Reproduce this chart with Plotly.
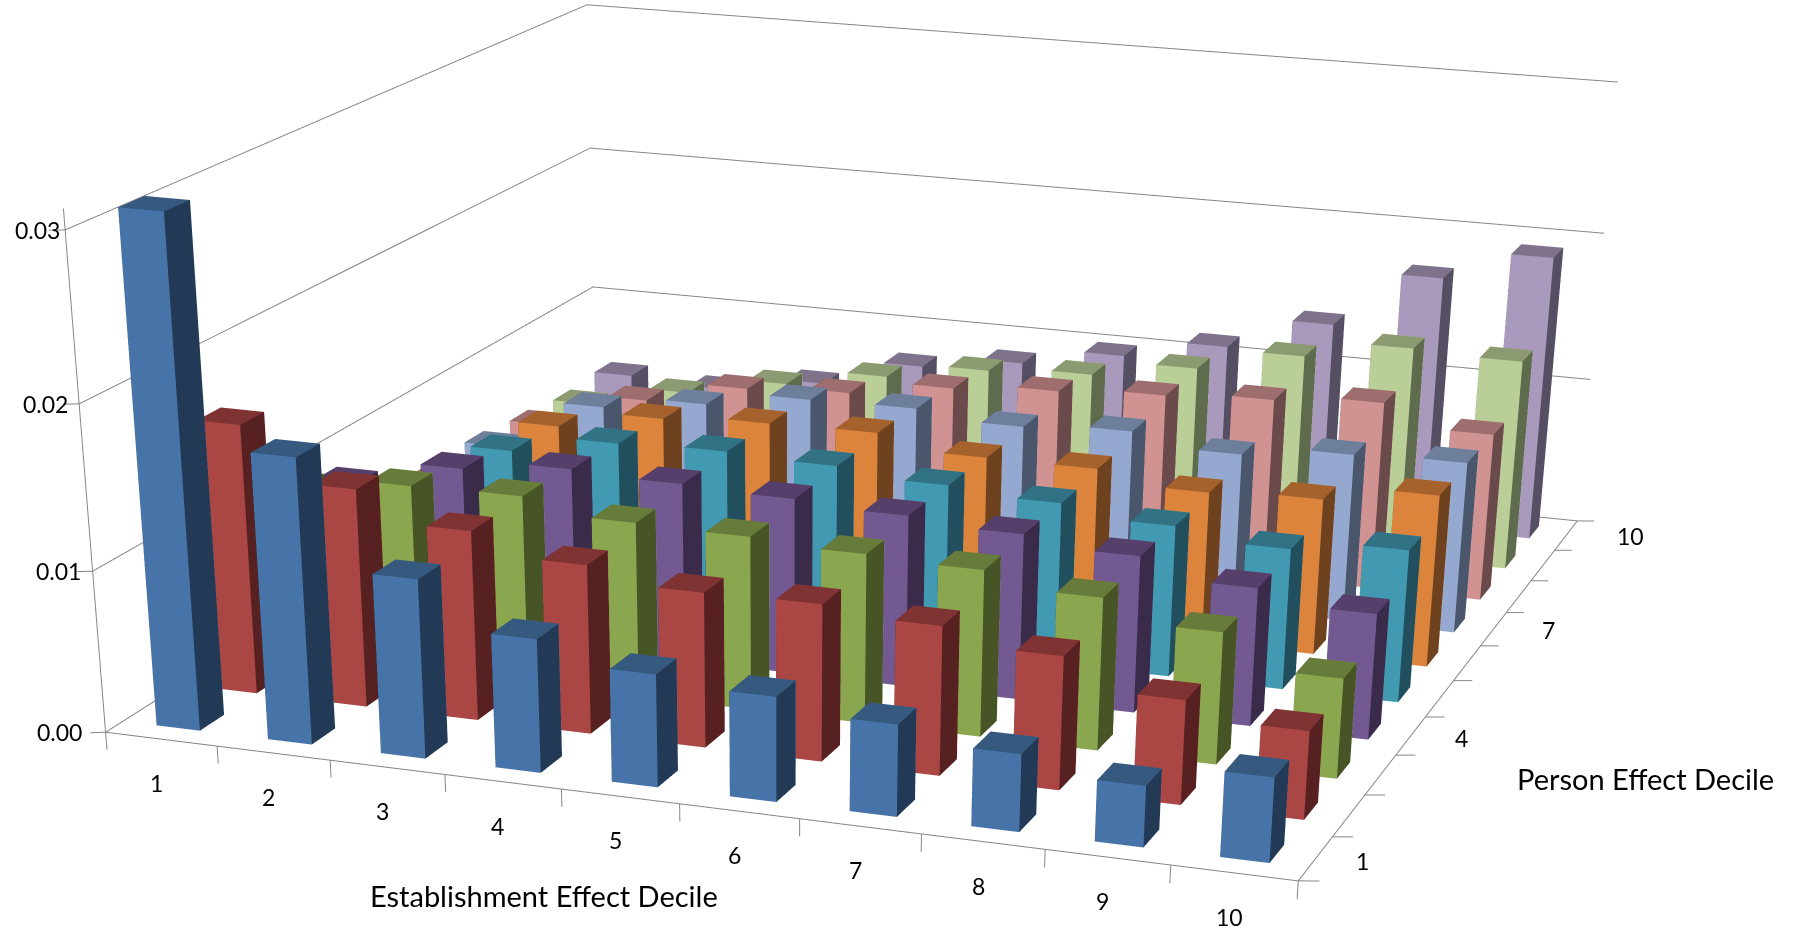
import numpy as np
import plotly.graph_objects as go

establishment = list(range(1, 11))
person = list(range(1, 11))
row1 = [.031,.0175,.011,.0082,.0069,.0064,.0056,.0047,.0037,.0051]
row2 = [.0168,.0136,.0118,.0105,.0096,.0097,.0092,.0082,.0064,.0054]
row3 = [.011,.0118,.0119,.011,.0109,.0106,.0104,.0095,.0082,.0062]
row4 = [.0092,.0109,.0116,.0114,.0112,.0109,.0105,.0099,.0087,.0079]
row5 = [.006,.0101,.0113,.0115,.0113,.0108,.0104,.0097,.009,.0097]
row6 = [.0058,.0098,.011,.0114,.0115,.0106,.0106,.0098,.0101,.0111]
row7 = [.0058,.0092,.0101,.0111,.0112,.0107,.0111,.0103,.011,.0112]
row8 = [.0054,.0078,.0093,.0097,.0107,.0112,.0116,.012,.0125,.0111]
row9 = [.005,.0065,.0078,.009,.0101,.0105,.0116,.0131,.0143,.0141]
row10 = [.0052,.0049,.006,.0079,.0088,.01,.0113,.0135,.0173,.0193]
rows = [row1,row2,row3,row4,row5,row6,row7,row8,row9,row10]
z_ticks = [0, .01, .02, .03]
z_labels = ['0.00', '0.01', '0.02', '0.03']
person_labels = [1, 4, 7, 10]
x_title = 'Establishment Effect Decile'
y_title = 'Person Effect Decile'
front = ['#4674A8','#AA4644','#8AA64E','#725991','#4299B2','#DC843C','#95A9D0','#D19292','#BACE97','#A999BC']
top = ['#35597F','#7F3333','#677B3A','#56406B','#317385','#A5622C','#6E7F9C','#9E6E6E','#8C9A71','#7F738C']
side = ['#233A56','#572121','#475526','#3A2B4B','#214F5D','#6E421E','#49566B','#6A4A4A','#5F6B4D','#564E62']
WX, WY = 0.39, 0.42
LINE = '#868686'

# The visible chart is the top quarter of a taller scene: Plotly's 3-D field of view is fixed,
# and this narrows it to the long-lens look of the reference.
FIGW, FIGH = 1797, 933 * 4

# Floor and wall box of the chart, and the wider scene ranges that leave room for the tick marks.
BOX = np.array([[.5, 10.5], [.5, 10.5], [0, .031]])
RANGE = np.array([[.38, 10.66], [.44, 10.57], [-.0011, .032]])
box_aspect = np.array([2, 2.14002, 0.81183])
eye = np.array([2.49312, -7.50079, 1.90536])
center = np.array([-3.42875, 10.60181, -9.89249])
up = dict(x=-11.49176, y=34.11326, z=1)

span, rspan = BOX[:, 1] - BOX[:, 0], RANGE[:, 1] - RANGE[:, 0]
aspect = box_aspect * rspan / span
shift = (BOX.mean(axis=1) - RANGE.mean(axis=1)) / span * box_aspect
eye, center = eye + shift, center + shift

data = []
for j, vals in enumerate(rows):
    xs, ys, zs, I, J, K, fc = [], [], [], [], [], [], []
    for i, v in enumerate(vals):
        x0, x1 = establishment[i] - WX / 2, establishment[i] + WX / 2
        y0, y1 = person[j] - WY / 2, person[j] + WY / 2
        b = len(xs)
        xs += [x0, x1, x1, x0, x0, x1, x1, x0]
        ys += [y0, y0, y1, y1, y0, y0, y1, y1]
        zs += [0, 0, 0, 0, v, v, v, v]
        quads = [((0, 1, 5), (0, 5, 4), front[j]), ((1, 2, 6), (1, 6, 5), side[j]), ((4, 5, 6), (4, 6, 7), top[j]),
                 ((3, 2, 6), (3, 6, 7), front[j]), ((0, 3, 7), (0, 7, 4), side[j])]
        for t1, t2, c in quads:
            for t in (t1, t2):
                I.append(b + t[0]); J.append(b + t[1]); K.append(b + t[2]); fc.append(c)
    data.append(go.Mesh3d(x=xs, y=ys, z=zs, i=I, j=J, k=K, facecolor=fc, flatshading=True,
                          lighting=dict(ambient=1, diffuse=0, specular=0, roughness=1, fresnel=0),
                          hoverinfo='skip', showscale=False))

# Axis lines, tick marks and wall gridlines
xl, yl, zl = [], [], []
def seg(*points):
    for p in points:
        xl.append(p[0]); yl.append(p[1]); zl.append(p[2])
    xl.append(None); yl.append(None); zl.append(None)
xa, xb, ya, yb = BOX[0, 0], BOX[0, 1], BOX[1, 0], BOX[1, 1]
seg((xa, ya, 0), (xb, ya, 0), (xb, yb, 0))
seg((xa, ya, RANGE[2, 0]), (xa, ya, .0312))
for z in z_ticks:
    seg((xa, ya, z), (xa, yb, z), (xb, yb, z))
    seg((xa, ya, z), (xa - .11, ya - .053, z))
for e in range(11):
    seg((xa + e, ya, 0), (xa + e, ya, RANGE[2, 0]))
    seg((xb, ya + e, 0), (xb + .15, ya + e + .052, 0))
data.append(go.Scatter3d(x=xl, y=yl, z=zl, mode='lines', line=dict(color=LINE, width=2), hoverinfo='skip'))

fig = go.Figure(data)
tf = dict(family='Lato', size=23, color='black')
sa = []
for i in establishment:
    sa.append(dict(x=i, y=.5, z=0, text=str(i), showarrow=False, xshift=-5, yshift=-44, font=tf))
for i, sx, sy in zip(person_labels, [47, 51, 55, 64], [-2, -2, -1, -1]):
    sa.append(dict(x=10.5, y=i, z=0, text=str(i), showarrow=False, xshift=sx, yshift=sy, font=tf))
for v, t, sx in zip(z_ticks, z_labels, [-46, -34, -34, -28]):
    sa.append(dict(x=.5, y=.5, z=v, text=t, showarrow=False, xshift=sx, yshift=0, font=tf))
def py(yp): return 1 - yp / FIGH
tt = dict(family='Lato', size=29, color='black')
hidden = dict(visible=False, showspikes=False)
fig.update_layout(width=FIGW, height=FIGH, margin=dict(l=0, r=0, t=0, b=0, autoexpand=False),
    paper_bgcolor='white', showlegend=False,
    annotations=[
        dict(text=x_title, x=544 / FIGW, y=py(896), xref='paper', yref='paper', xanchor='center', yanchor='middle', showarrow=False, font=tt),
        dict(text=y_title, x=1645 / FIGW, y=py(778), xref='paper', yref='paper', xanchor='center', yanchor='middle', showarrow=False, font=tt)],
    scene=dict(domain=dict(x=[0, 1], y=[0, 1]), aspectmode='manual',
        aspectratio=dict(x=float(aspect[0]), y=float(aspect[1]), z=float(aspect[2])),
        camera=dict(eye=dict(x=float(eye[0]), y=float(eye[1]), z=float(eye[2])),
                    center=dict(x=float(center[0]), y=float(center[1]), z=float(center[2])),
                    up=up, projection=dict(type='perspective')),
        annotations=sa,
        xaxis=dict(hidden, range=RANGE[0].tolist()),
        yaxis=dict(hidden, range=RANGE[1].tolist()),
        zaxis=dict(hidden, range=RANGE[2].tolist())))
post = ("document.documentElement.style.overflow='hidden';document.body.style.overflow='hidden';"
        "document.body.style.margin='0';document.body.style.height='933px';")
fig.write_html('out.html', post_script=post, config=dict(displayModeBar=False))
